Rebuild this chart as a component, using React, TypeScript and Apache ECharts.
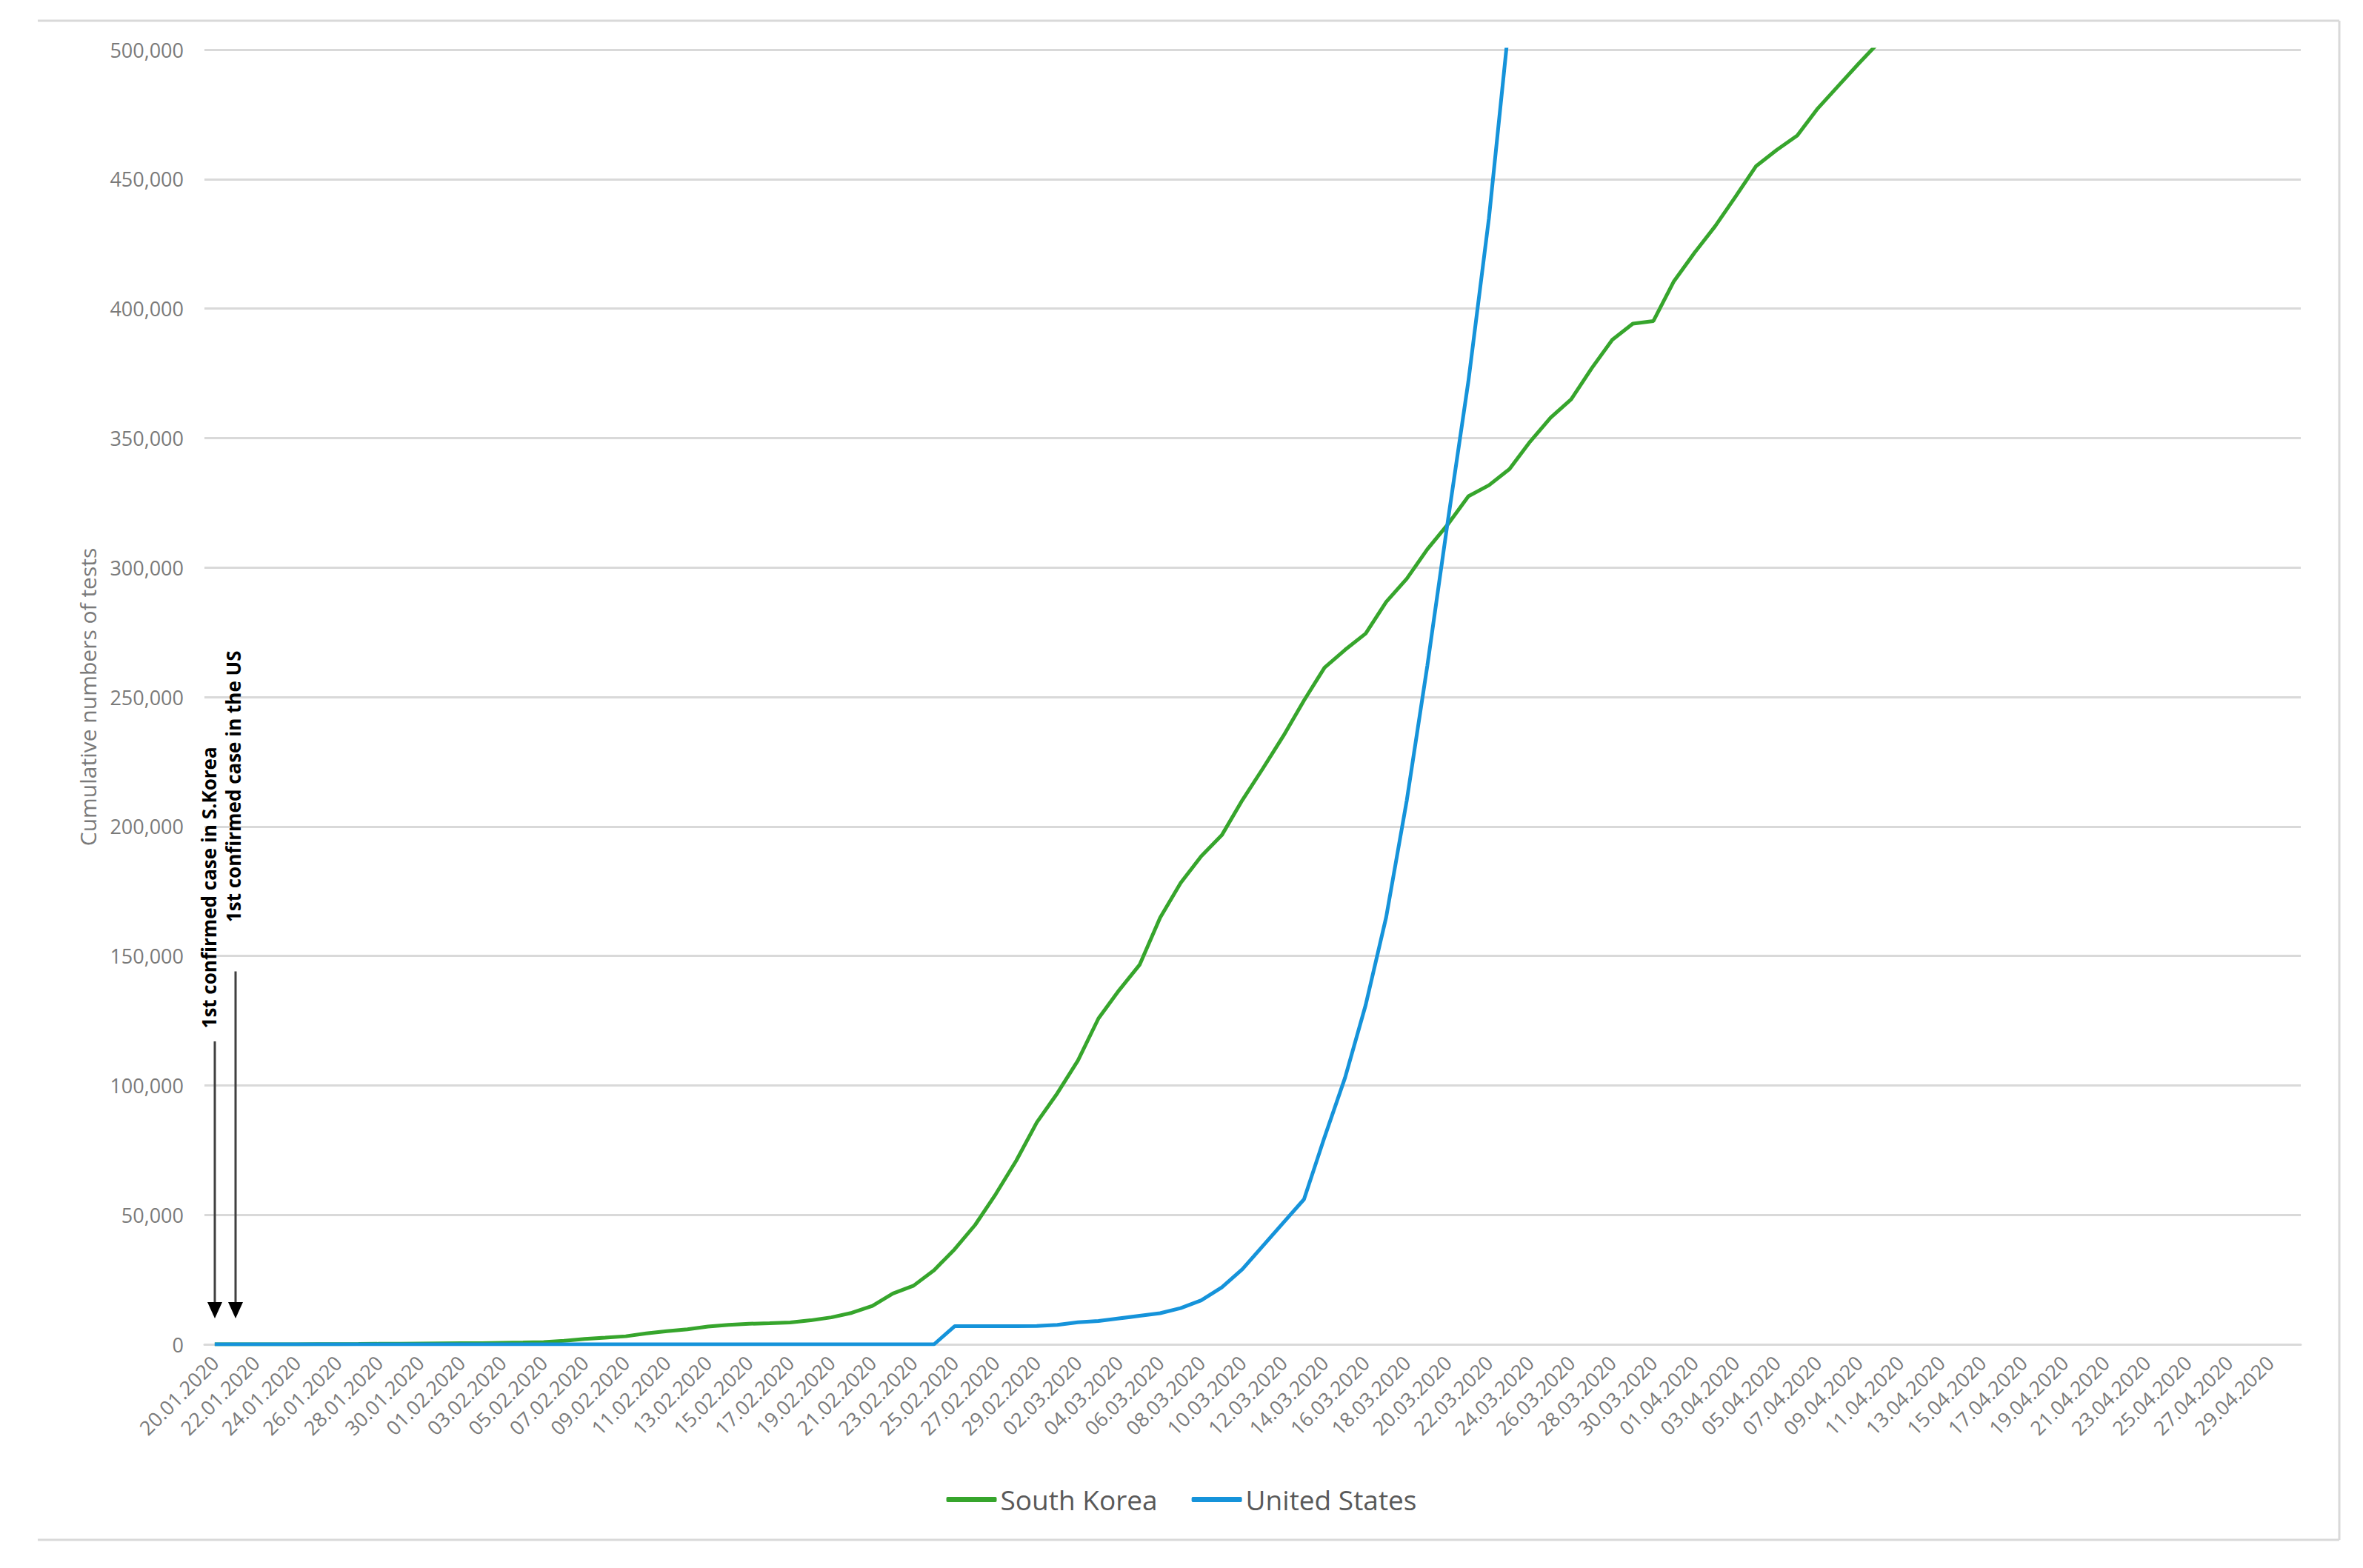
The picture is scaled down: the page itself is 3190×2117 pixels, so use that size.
import React, { useEffect, useRef } from 'react';
import * as echarts from 'echarts';

const categories: string[] = [
  '20.01.2020', '21.01.2020', '22.01.2020', '23.01.2020', '24.01.2020', '25.01.2020', '26.01.2020', '27.01.2020', '28.01.2020', '29.01.2020', '30.01.2020', '31.01.2020',
  '01.02.2020', '02.02.2020', '03.02.2020', '04.02.2020', '05.02.2020', '06.02.2020', '07.02.2020', '08.02.2020', '09.02.2020', '10.02.2020',
  '11.02.2020', '12.02.2020', '13.02.2020', '14.02.2020', '15.02.2020', '16.02.2020', '17.02.2020', '18.02.2020', '19.02.2020', '20.02.2020',
  '21.02.2020', '22.02.2020', '23.02.2020', '24.02.2020', '25.02.2020', '26.02.2020', '27.02.2020', '28.02.2020', '29.02.2020',
  '01.03.2020', '02.03.2020', '03.03.2020', '04.03.2020', '05.03.2020', '06.03.2020', '07.03.2020', '08.03.2020', '09.03.2020', '10.03.2020',
  '11.03.2020', '12.03.2020', '13.03.2020', '14.03.2020', '15.03.2020', '16.03.2020', '17.03.2020', '18.03.2020', '19.03.2020', '20.03.2020',
  '21.03.2020', '22.03.2020', '23.03.2020', '24.03.2020', '25.03.2020', '26.03.2020', '27.03.2020', '28.03.2020', '29.03.2020', '30.03.2020', '31.03.2020',
  '01.04.2020', '02.04.2020', '03.04.2020', '04.04.2020', '05.04.2020', '06.04.2020', '07.04.2020', '08.04.2020', '09.04.2020', '10.04.2020',
  '11.04.2020', '12.04.2020', '13.04.2020', '14.04.2020', '15.04.2020', '16.04.2020', '17.04.2020', '18.04.2020', '19.04.2020', '20.04.2020',
  '21.04.2020', '22.04.2020', '23.04.2020', '24.04.2020', '25.04.2020', '26.04.2020', '27.04.2020', '28.04.2020', '29.04.2020', '30.04.2020',
];

// Cumulative numbers of tests, South Korea (20.01 – 10.04)
const southKorea: number[] = [
  1, 1, 4, 22, 27, 51, 61, 116, 187, 246, 312, 371,
  429, 460, 607, 714, 885, 1352, 2097, 2598, 3110, 4205,
  5074, 5797, 6854, 7519, 7919, 8171, 8451, 9265, 10411, 12161,
  14816, 19621, 22633, 28615, 36716, 46127, 57990, 70940, 85693,
  96985, 109591, 125851, 136707, 146541, 164740, 178189, 188518, 196618, 210144,
  222395, 234998, 248647, 261335, 268212, 274504, 286716, 295647, 307024, 316664,
  327509, 331780, 338036, 348582, 357896, 364942, 376961, 387925, 394141, 395194, 410564,
  421547, 431743, 443273, 455032, 461233, 466804, 477304, 486003, 494711, 503051,
];

// Cumulative numbers of tests, United States (20.01 – 23.03)
const unitedStates: number[] = [
  0, 0, 0, 0, 0, 0, 0, 0, 0, 0, 0, 0,
  0, 0, 0, 0, 0, 0, 0, 0, 0, 0,
  0, 0, 0, 0, 0, 0, 0, 0, 0, 0,
  0, 0, 0, 0, 7000, 7000, 7000, 7000, 7100,
  7500, 8500, 9000, 10000, 11000, 12000, 14000, 17000, 22000, 29000,
  38000, 47000, 56000, 80000, 103000, 131000, 165000, 210000, 262000, 318000,
  372000, 435000, 512000,
];

const seriesNames = ['South Korea', 'United States'];
const seriesColors = ['#36A52C', '#1593DA'];

const yMin = 0;
const yMax = 500000;
const yInterval = 50000;

// annotation texts, the category they point at, and the values where arrow / text start and end
const annotationTexts = ['1st confirmed case in S.Korea', '1st confirmed case in the US'];
const annotationCategories = [0, 1];
const arrowFromValues = [117000, 144000];
const arrowToValues = [10000, 10000];
const textStartValues = [122000, 163000];
const textOffsetsX = [-8, -3];

const FONT = "'Open Sans', 'Noto Sans', sans-serif";

export default function App() {
  const ref = useRef<HTMLDivElement>(null);

  useEffect(() => {
    document.body.style.margin = '0';
    const chart = echarts.init(ref.current!, null, { renderer: 'svg' });

    const option: any = {
      animation: false,
      backgroundColor: '#ffffff',
      textStyle: { fontFamily: FONT },
      grid: { left: 276, right: 84, top: 67, bottom: 302, containLabel: false },
      legend: {
        left: 'center',
        top: 2001,
        icon: 'roundRect',
        itemWidth: 68,
        itemHeight: 7,
        itemGap: 46,
        textStyle: { fontFamily: FONT, fontSize: 37, color: '#595959' },
        data: seriesNames,
      },
      xAxis: {
        type: 'category',
        data: categories,
        boundaryGap: true,
        axisLine: { show: true, lineStyle: { color: '#d9d9d9', width: 3 } },
        axisTick: { show: false },
        axisLabel: {
          interval: 1,
          rotate: 45,
          margin: 20,
          fontSize: 27,
          color: '#7a7a7a',
          fontFamily: FONT,
        },
        splitLine: { show: false },
      },
      yAxis: {
        type: 'value',
        min: yMin,
        max: yMax,
        interval: yInterval,
        name: 'Cumulative numbers of tests',
        nameLocation: 'middle',
        nameRotate: 90,
        nameGap: 143,
        nameTextStyle: { fontSize: 30, color: '#7a7a7a', fontFamily: FONT },
        axisLine: { show: false },
        axisTick: { show: false },
        axisLabel: {
          margin: 28,
          fontSize: 27,
          color: '#7a7a7a',
          fontFamily: FONT,
          formatter: (v: number) => v.toLocaleString('en-US'),
        },
        splitLine: { show: true, lineStyle: { color: '#d9d9d9', width: 3 } },
      },
      series: [
        {
          name: seriesNames[0],
          type: 'line',
          data: southKorea,
          symbol: 'none',
          clip: true,
          lineStyle: { color: seriesColors[0], width: 5 },
          itemStyle: { color: seriesColors[0] },
        },
        {
          name: seriesNames[1],
          type: 'line',
          data: unitedStates,
          symbol: 'none',
          clip: true,
          lineStyle: { color: seriesColors[1], width: 5 },
          itemStyle: { color: seriesColors[1] },
        },
      ],
    };
    chart.setOption(option);

    const graphics: any[] = [];
    // outer frame
    graphics.push({ type: 'line', shape: { x1: 51, y1: 28, x2: 3158, y2: 28 }, style: { stroke: '#d9d9d9', lineWidth: 3 }, silent: true });
    graphics.push({ type: 'line', shape: { x1: 51, y1: 2079, x2: 3158, y2: 2079 }, style: { stroke: '#d9d9d9', lineWidth: 3 }, silent: true });
    graphics.push({ type: 'line', shape: { x1: 3158, y1: 28, x2: 3158, y2: 2079 }, style: { stroke: '#d9d9d9', lineWidth: 3 }, silent: true });

    annotationTexts.forEach((text, i) => {
      const cat = annotationCategories[i];
      const top = chart.convertToPixel({ gridIndex: 0 } as any, [cat, arrowFromValues[i]]) as number[];
      const tip = chart.convertToPixel({ gridIndex: 0 } as any, [cat, arrowToValues[i]]) as number[];
      const txt = chart.convertToPixel({ gridIndex: 0 } as any, [cat, textStartValues[i]]) as number[];
      const x = Math.round(tip[0]);
      graphics.push({
        type: 'line',
        shape: { x1: x, y1: top[1], x2: x, y2: tip[1] - 18 },
        style: { stroke: '#404040', lineWidth: 3 },
        silent: true,
      });
      graphics.push({
        type: 'polygon',
        shape: { points: [[x - 10, tip[1] - 22], [x + 10, tip[1] - 22], [x, tip[1]]] },
        style: { fill: '#000000' },
        silent: true,
      });
      graphics.push({
        type: 'text',
        x: x + textOffsetsX[i],
        y: txt[1],
        rotation: Math.PI / 2,
        style: {
          text,
          fontSize: 26,
          fontWeight: 'bold',
          fontFamily: FONT,
          fill: '#000000',
          align: 'left',
          verticalAlign: 'middle',
        },
        silent: true,
      });
    });

    chart.setOption({ graphic: graphics });

    return () => chart.dispose();
  }, []);

  return (
    <div
      ref={ref}
      style={{ position: 'absolute', left: 0, top: 0, width: 3190, height: 2117, background: '#ffffff' }}
    />
  );
}
